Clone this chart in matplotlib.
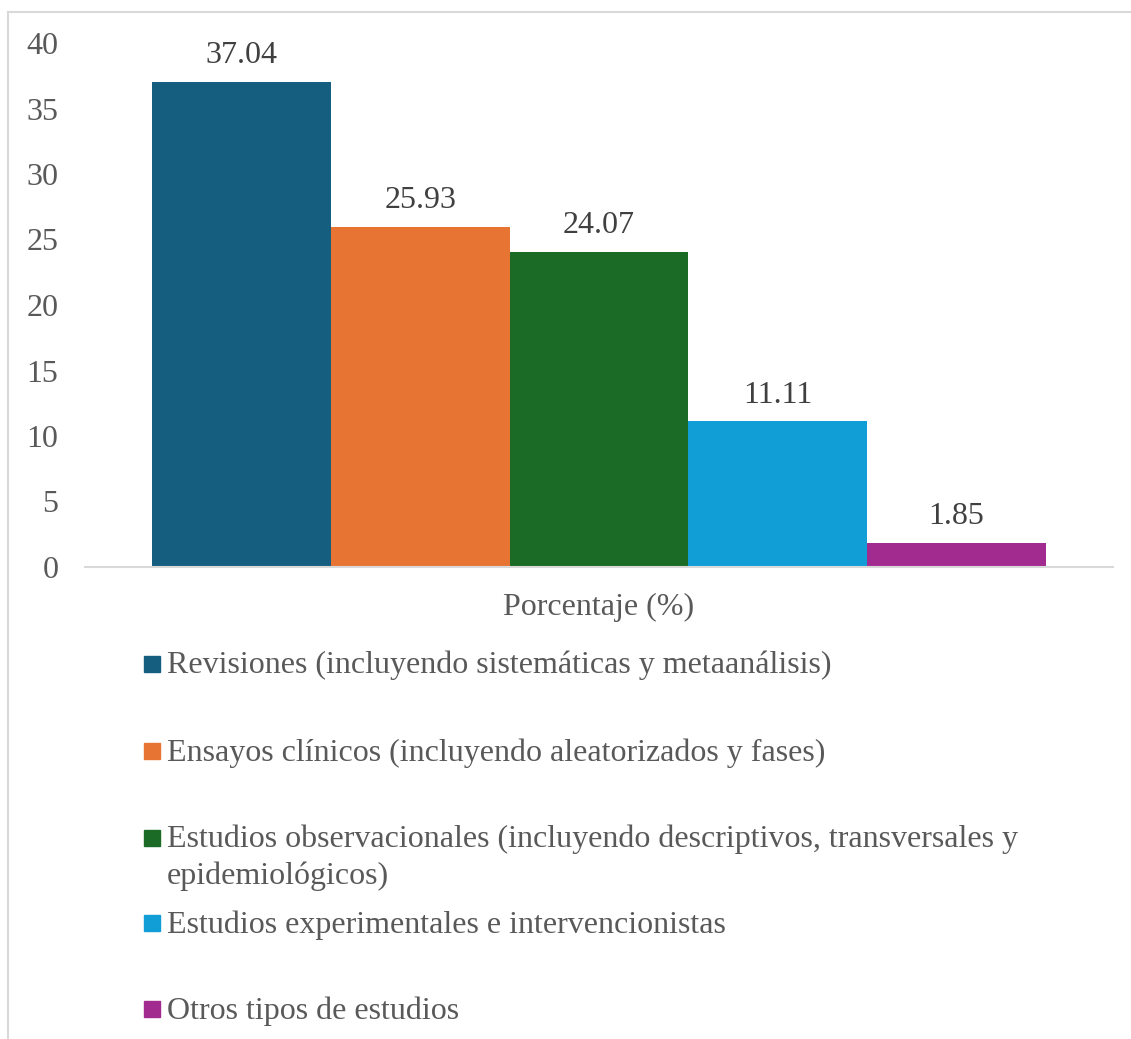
import matplotlib
matplotlib.use('Agg')
import matplotlib.pyplot as plt
from matplotlib.lines import Line2D
from matplotlib.patches import Rectangle

categories = ['Revisiones (incluyendo sistemáticas y metaanálisis)',
              'Ensayos clínicos (incluyendo aleatorizados y fases)',
              'Estudios observacionales (incluyendo descriptivos, transversales y\nepidemiológicos)',
              'Estudios experimentales e intervencionistas',
              'Otros tipos de estudios']
values = [37.04, 25.93, 24.07, 11.11, 1.85]
colors = ['#165E80', '#E87434', '#1B6B27', '#119ED6', '#A12B8F']
group_label = 'Porcentaje (%)'
y_ticks = [0, 5, 10, 15, 20, 25, 30, 35, 40]

plt.rcParams['font.family'] = ['Liberation Serif', 'DejaVu Serif']
FS = 23

W, H = 1131, 1039
fig = plt.figure(figsize=(W / 100, H / 100), dpi=100)
ax = fig.add_axes([85 / W, 1 - 567 / H, (1113 - 85) / W, (567 - 43) / H])

x = list(range(len(values)))
bars = ax.bar(x, values, width=1.0, color=colors)
for b, v in zip(bars, values):
    ax.annotate(f'{v:.2f}', (b.get_x() + b.get_width() / 2, v),
                xytext=(0, 19), textcoords='offset points',
                ha='center', va='center', fontsize=FS, color='#404040')

gap = 67 / 179
ax.set_xlim(-0.5 - gap, len(values) - 0.5 + gap)
ax.set_ylim(0, 40)
ax.set_yticks(y_ticks)
ax.set_xticks([(len(values) - 1) / 2], [group_label])
ax.tick_params(axis='y', length=0, pad=19, labelsize=FS, labelcolor='#595959')
ax.tick_params(axis='x', length=0, pad=19, labelsize=FS, labelcolor='#595959')
for s in ['left', 'right', 'top']:
    ax.spines[s].set_visible(False)
ax.spines['bottom'].set_color('#D9D9D9')
ax.spines['bottom'].set_linewidth(1.5)

# legend drawn by hand, one slot per series
legend_y = [664, 751, 838, 923, 1009]
for c, lab, yy in zip(colors, categories, legend_y):
    fig.patches.append(Rectangle((144 / W, 1 - (yy + 8) / H), 16 / W, 16 / H,
                                 transform=fig.transFigure, color=c))
    fig.text(167 / W, 1 - (yy - 13) / H, lab, fontsize=FS, color='#595959',
             va='top', ha='left', linespacing=1.3)

# chart area border
fig.lines.append(Line2D([8 / W, 8 / W], [0, 1 - 12 / H], transform=fig.transFigure,
                        color='#D9D9D9', lw=1.5))
fig.lines.append(Line2D([8 / W, 1], [1 - 12 / H, 1 - 12 / H], transform=fig.transFigure,
                        color='#D9D9D9', lw=1.5))

fig.savefig('out.png', dpi=100, facecolor='white')
